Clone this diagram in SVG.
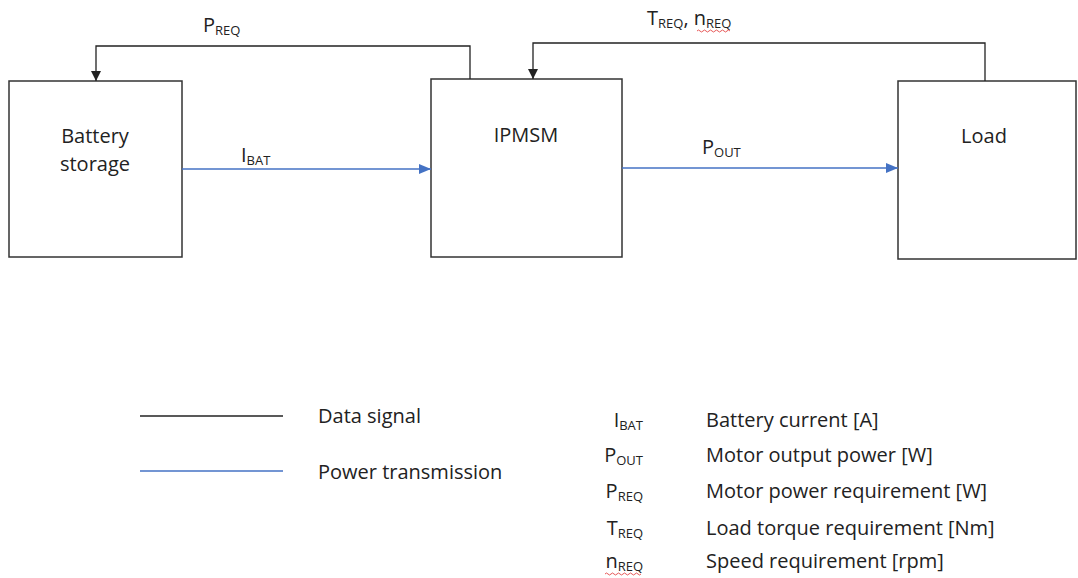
<svg xmlns="http://www.w3.org/2000/svg" width="1078" height="578" viewBox="0 0 1078 578">
<style>
text{font-family:"Open Sans","Liberation Sans",Arial,sans-serif;fill:#222;font-size:20px}
.sub{font-size:13px}
.box{fill:#fff;stroke:#333;stroke-width:1.5}
.data{fill:none;stroke:#222;stroke-width:1.3}
.pow{fill:none;stroke:#4472C4;stroke-width:1.6}
</style>
<defs>
<marker id="ab" markerWidth="10" markerHeight="10" refX="10" refY="5" orient="auto" markerUnits="userSpaceOnUse"><path d="M0,0 L10,5 L0,10 Z" fill="#222"/></marker>
<marker id="au" markerWidth="12" markerHeight="10" refX="12" refY="5" orient="auto" markerUnits="userSpaceOnUse"><path d="M0,0 L12,5 L0,10 Z" fill="#4472C4"/></marker>
</defs>
<rect width="1078" height="578" fill="#fff"/>
<g id="battery"><rect class="box" x="9" y="81" width="173" height="176"/><text x="95" y="143" text-anchor="middle">Battery</text><text x="95" y="171" text-anchor="middle">storage</text></g>
<g id="ipmsm"><rect class="box" x="431" y="79" width="191" height="178"/><text x="526" y="142" text-anchor="middle">IPMSM</text></g>
<g id="load"><rect class="box" x="898" y="81" width="178" height="178"/><text x="984" y="143" text-anchor="middle">Load</text></g>
<g id="connectors">
<path class="data" d="M470,79 V46 H96 V81" marker-end="url(#ab)"/>
<path class="data" d="M985,81 V43 H533 V79" marker-end="url(#ab)"/>
<path class="pow" d="M182,169 H431" marker-end="url(#au)"/>
<path class="pow" d="M622,168 H898" marker-end="url(#au)"/>
<text x="203" y="32">P<tspan class="sub" dy="3">REQ</tspan></text>
<text x="241" y="162">I<tspan class="sub" dy="3">BAT</tspan></text>
<text x="647" y="25">T<tspan class="sub" dy="3">REQ</tspan><tspan dy="-3">, n</tspan><tspan class="sub" dy="3">REQ</tspan></text>
<text x="702" y="154">P<tspan class="sub" dy="3">OUT</tspan></text>
<path d="M697,31 q1.5,-2 3,0 t3,0 t3,0 t3,0 t3,0 t3,0 t3,0 t3,0 t3,0 t3,0 t3,0" fill="none" stroke="#e03030" stroke-width="0.8"/>
</g>
<g id="legend">
<line x1="140" y1="416" x2="283" y2="416" stroke="#222" stroke-width="1.3"/>
<text x="318" y="423">Data signal</text>
<line x1="140" y1="471" x2="283" y2="471" stroke="#4472C4" stroke-width="1.3"/>
<text x="318" y="479">Power transmission</text>
<g text-anchor="end">
<text x="643" y="427">I<tspan class="sub" dy="3">BAT</tspan></text>
<text x="643" y="462">P<tspan class="sub" dy="3">OUT</tspan></text>
<text x="643" y="498">P<tspan class="sub" dy="3">REQ</tspan></text>
<text x="643" y="535">T<tspan class="sub" dy="3">REQ</tspan></text>
<text x="643" y="568">n<tspan class="sub" dy="3">REQ</tspan></text>
</g>
<path d="M605,574 q1.5,-2 3,0 t3,0 t3,0 t3,0 t3,0 t3,0 t3,0 t3,0 t3,0 t3,0 t3,0 t3,0" fill="none" stroke="#e03030" stroke-width="0.8"/>
<text x="706" y="427">Battery current [A]</text>
<text x="706" y="462">Motor output power [W]</text>
<text x="706" y="498">Motor power requirement [W]</text>
<text x="706" y="535">Load torque requirement [Nm]</text>
<text x="706" y="568">Speed requirement [rpm]</text>
</g>
</svg>
